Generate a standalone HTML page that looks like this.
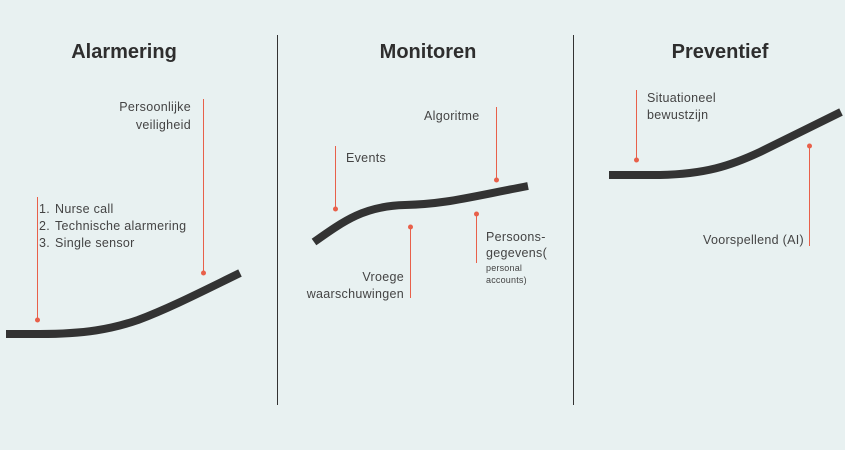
<!DOCTYPE html>
<html><head><meta charset="utf-8"><style>
html,body{margin:0;padding:0;background:#fff}
svg{display:block}
text{font-family:"Liberation Sans",sans-serif;fill:#444}
.t{font-weight:bold;font-size:20px;fill:#2e2e2e;text-anchor:middle}
.l{font-size:12.5px;letter-spacing:0.3px}
.s{font-size:9px;letter-spacing:0.2px}
</style></head><body>
<svg width="845" height="450" viewBox="0 0 845 450" xmlns="http://www.w3.org/2000/svg">
<rect x="0" y="0" width="845" height="450" fill="#e8f1f1"/>
<line x1="277.5" y1="35" x2="277.5" y2="405" stroke="#333" stroke-width="1"/>
<line x1="573.5" y1="35" x2="573.5" y2="405" stroke="#333" stroke-width="1"/>
<text class="t" x="124" y="58">Alarmering</text>
<text class="t" x="428" y="58">Monitoren</text>
<text class="t" x="720" y="58">Preventief</text>
<g fill="none" stroke="#333" stroke-width="8">
<path d="M6,334 L40,334 C85,334 112,329 138,320 C170,308 205,290 240,273"/>
<path d="M314,242 C345,220 365,206 405,205 C445,204 465,198 528,186"/>
<path d="M609,175 L660,175 C705,174 730,166 760,152 L841,112"/>
</g>
<g stroke="#e8604a" stroke-width="1">
<line x1="37.5" y1="197" x2="37.5" y2="320"/>
<line x1="203.5" y1="99" x2="203.5" y2="273"/>
<line x1="335.5" y1="146" x2="335.5" y2="209"/>
<line x1="496.5" y1="107" x2="496.5" y2="180"/>
<line x1="410.5" y1="227" x2="410.5" y2="298"/>
<line x1="476.5" y1="214" x2="476.5" y2="263"/>
<line x1="636.5" y1="90" x2="636.5" y2="160"/>
<line x1="809.5" y1="146" x2="809.5" y2="246"/>
</g>
<g fill="#e8604a">
<circle cx="37.5" cy="320" r="2.5"/><circle cx="203.5" cy="273" r="2.5"/>
<circle cx="335.5" cy="209" r="2.5"/><circle cx="496.5" cy="180" r="2.5"/>
<circle cx="410.5" cy="227" r="2.5"/><circle cx="476.5" cy="214" r="2.5"/>
<circle cx="636.5" cy="160" r="2.5"/><circle cx="809.5" cy="146" r="2.5"/>
</g>
<text class="l" x="191" y="111" text-anchor="end">Persoonlijke</text>
<text class="l" x="191" y="129" text-anchor="end">veiligheid</text>
<text class="l" x="39" y="213">1.</text><text class="l" x="55" y="213">Nurse call</text>
<text class="l" x="39" y="230">2.</text><text class="l" x="55" y="230">Technische alarmering</text>
<text class="l" x="39" y="247">3.</text><text class="l" x="55" y="247">Single sensor</text>
<text class="l" x="346" y="162">Events</text>
<text class="l" x="424" y="120">Algoritme</text>
<text class="l" x="404" y="281" text-anchor="end">Vroege</text>
<text class="l" x="404" y="298" text-anchor="end">waarschuwingen</text>
<text class="l" x="486" y="241">Persoons-</text>
<text class="l" x="486" y="257">gegevens(</text>
<text class="s" x="486" y="271">personal</text>
<text class="s" x="486" y="283">accounts)</text>
<text class="l" x="647" y="102">Situationeel</text>
<text class="l" x="647" y="119">bewustzijn</text>
<text class="l" x="804" y="244" text-anchor="end">Voorspellend (AI)</text>
</svg>
</body></html>
